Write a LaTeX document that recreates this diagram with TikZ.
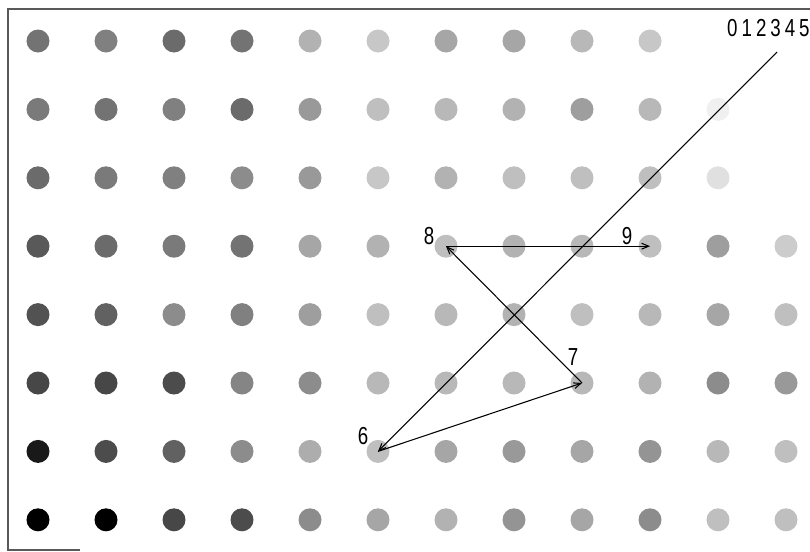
\documentclass[tikz,border=0pt]{standalone}
\usepackage{fontspec}
\setmainfont{Liberation Sans}
\newfontfamily\narrowsans[FakeStretch=0.76]{Liberation Sans}
\usetikzlibrary{arrows.meta,positioning}

\begin{document}
\begin{tikzpicture}[
    x=0.03cm, y=-0.03cm,
    >={Straight Barb[length=6pt,width=5pt]},
    dot/.style={circle, inner sep=0pt, minimum size=0.69cm, fill=black!#1},
    lbl/.style={font=\narrowsans\fontsize{21}{24}\selectfont, inner sep=0pt},
    link/.style={->, line width=0.9pt},
    frame/.style={draw=black!65, line width=0.9pt}
]
\useasboundingbox (0,0) rectangle (810,551);
\draw[frame] (80,550) -- (8,550) -- (8,9) -- (810,9);

% grey level of every dot, one row per line, 0 = no dot
\foreach \r/\row in {
    1/{55,50,58,55,30,22,35,35,28,22,0,0},
    2/{52,55,50,58,40,25,28,30,38,28,6,0},
    3/{58,52,50,45,40,22,30,25,25,25,12,0},
    4/{65,58,52,55,35,30,25,30,28,25,38,20},
    5/{68,62,45,50,38,25,28,30,25,28,35,25},
    6/{72,72,70,48,45,28,28,28,28,30,45,40},
    7/{90,70,62,45,32,25,35,40,35,42,28,25},
    8/{100,100,72,70,45,35,30,42,35,45,25,25}}
  \foreach \g [count=\c] in \row {
    \ifnum\g>0
      \node[dot=\g] (d-\c-\r) at ({38+68*(\c-1)},{41+68.4*(\r-1)}) {};
    \fi
  };

\node[lbl, anchor=west] (digits) at (727,28) {0\kern3.4pt1\kern3.4pt2\kern3.4pt3\kern3.4pt4\kern3.4pt5};
\coordinate (tail) at (777,52);

\node[lbl] (n6) at ([shift={(-15,-15)}]d-6-7) {6};
\node[lbl] (n7) at ([shift={(-9,-26)}]d-9-6) {7};
\node[lbl] (n8) at ([shift={(-17,-10)}]d-7-4) {8};
\node[lbl] (n9) at ([shift={(-23,-10)}]d-10-4) {9};

\draw[link] (tail) -- (d-6-7.center);
\draw[link] (d-6-7.center) -- (d-9-6.center);
\draw[link] (d-9-6.center) -- (d-7-4.center);
\draw[link] (d-7-4.center) -- (d-10-4.center);
\end{tikzpicture}
\end{document}
